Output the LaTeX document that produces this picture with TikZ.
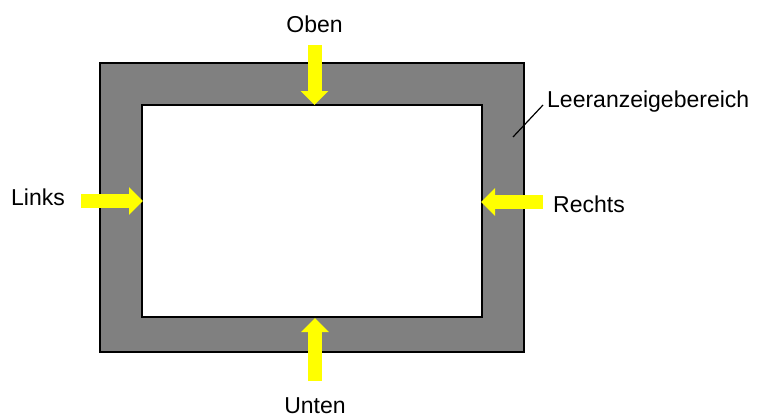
\documentclass[tikz,border=0pt]{standalone}
\usepackage{fontspec}
\setmainfont{Liberation Sans}
\usetikzlibrary{arrows.meta,positioning}
\definecolor{FrameGray}{HTML}{808080}
\definecolor{ArrowYellow}{HTML}{FFFF00}

\begin{document}
\begin{tikzpicture}[x=1pt,y=-1pt,
    lbl/.style={font=\fontsize{23}{27}\selectfont,inner sep=0pt},
    yarrow/.style={ArrowYellow,line width=14pt,-{Triangle[width=27pt,length=14pt]}}]
  \useasboundingbox (0,0) rectangle (759,416);
  % frame with the empty display area
  \draw[fill=FrameGray,line width=1.5pt] (100,63) rectangle (524,352);
  \draw[fill=white,line width=1.5pt] (142,105) rectangle (482,317);
  % labels
  \node[lbl,anchor=base] (oben) at (314.5,32) {Oben};
  \node[lbl,anchor=base] (unten) at (315,413) {Unten};
  \node[lbl,anchor=base] (links) at (38,205) {Links};
  \node[lbl,anchor=base] (rechts) at (589,212) {Rechts};
  \node[lbl,anchor=base west] (leer) at (547,107) {Leeranzeigebereich};
  % arrow ends
  \coordinate (oben-s) at (314.5,45);  \coordinate (oben-t) at (314.5,105);
  \coordinate (unten-s) at (315,381);  \coordinate (unten-t) at (315,318);
  \coordinate (links-s) at (81,201);   \coordinate (links-t) at (143,201);
  \coordinate (rechts-s) at (543,202); \coordinate (rechts-t) at (481,202);
  \foreach \n in {oben,unten,links,rechts} {
    \draw[yarrow] (\n-s) -- (\n-t);
  }
  % leader line
  \coordinate (leer-p) at (513,137);
  \coordinate (leer-q) at (543,105);
  \draw[line width=1.2pt] (leer-p) -- (leer-q);
\end{tikzpicture}
\end{document}
